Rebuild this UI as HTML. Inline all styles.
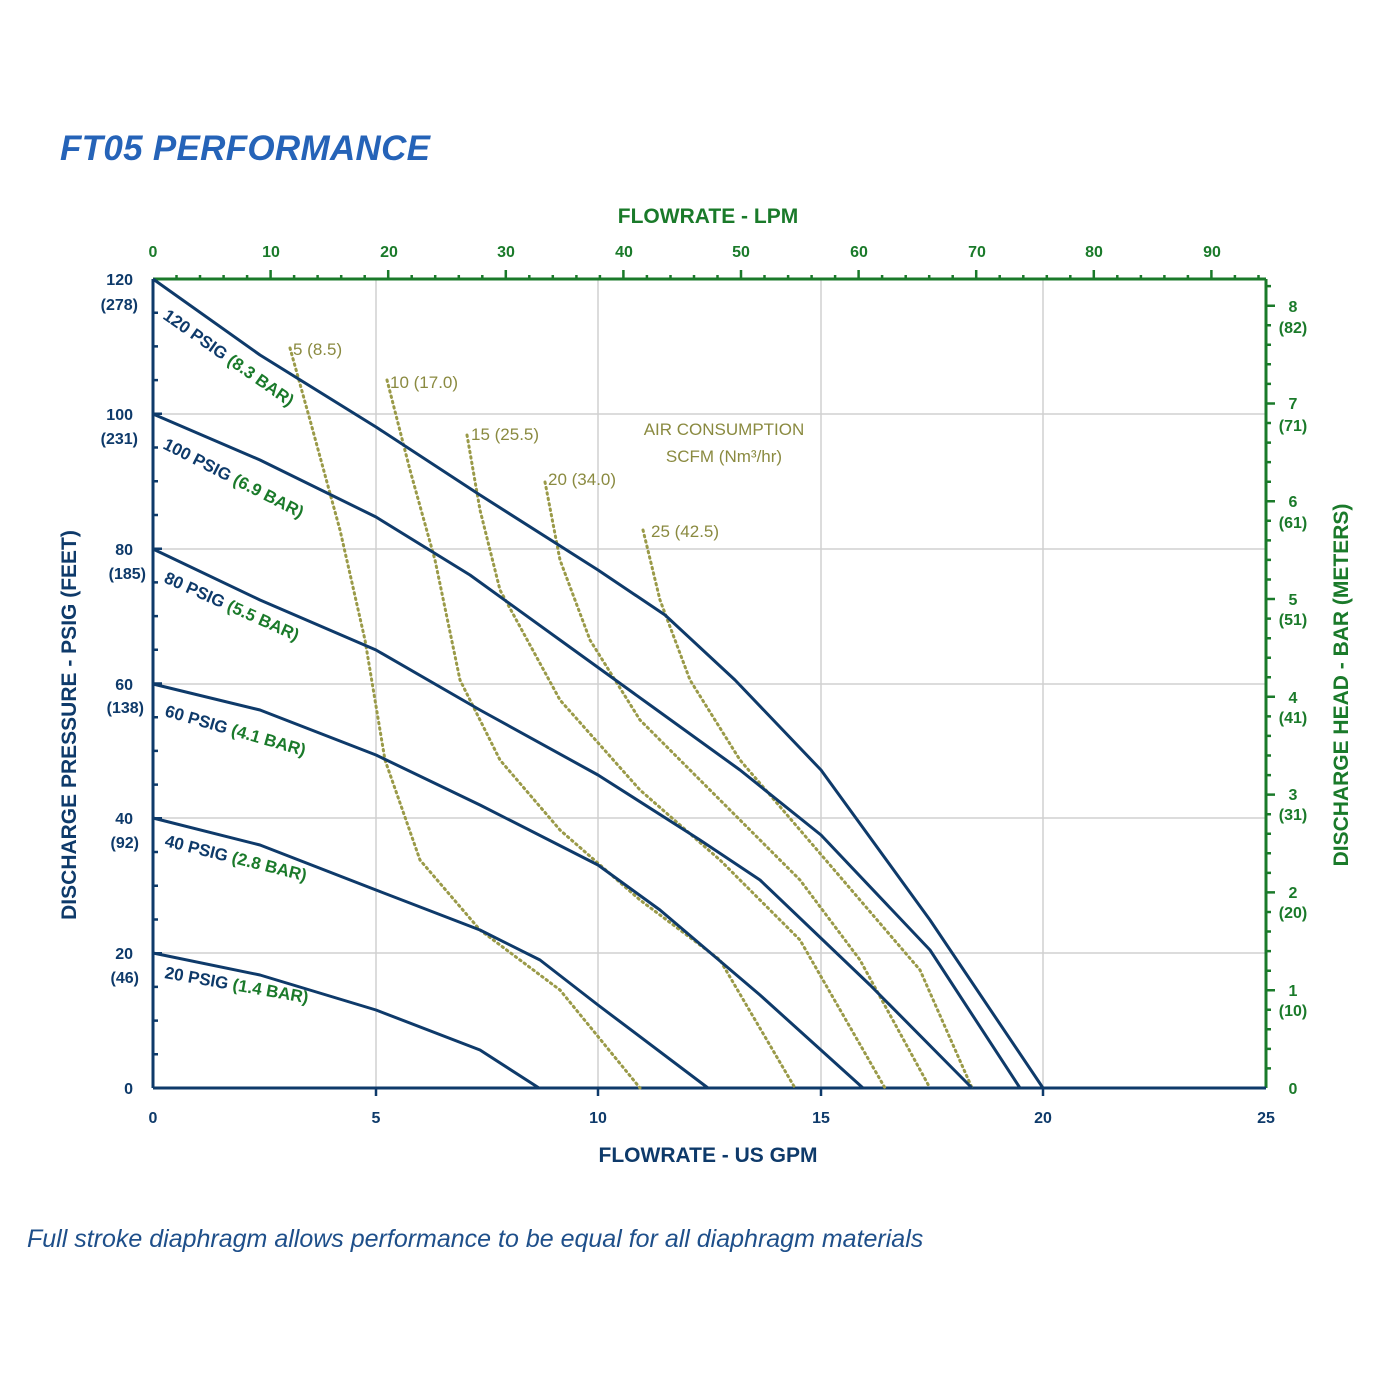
<!DOCTYPE html>
<html><head><meta charset="utf-8"><style>
body{margin:0;background:#fff;width:1400px;height:1400px;overflow:hidden}
svg{display:block}
text{font-family:"Liberation Sans",sans-serif}
</style></head><body>
<svg width="1400" height="1400" viewBox="0 0 1400 1400">
<text x="60" y="160" font-size="35" font-weight="bold" font-style="italic" fill="#2563b8" textLength="370">FT05 PERFORMANCE</text>
<g stroke="#d0d0d0" stroke-width="1.5">
<line x1="376" y1="279" x2="376" y2="1088"/><line x1="598" y1="279" x2="598" y2="1088"/>
<line x1="821" y1="279" x2="821" y2="1088"/><line x1="1043" y1="279" x2="1043" y2="1088"/>
<line x1="153" y1="414" x2="1266" y2="414"/><line x1="153" y1="549" x2="1266" y2="549"/>
<line x1="153" y1="684" x2="1266" y2="684"/><line x1="153" y1="818" x2="1266" y2="818"/>
<line x1="153" y1="953" x2="1266" y2="953"/>
</g>
<g stroke="#1a7a2a" stroke-width="3">
<line x1="153" y1="279" x2="1266" y2="279"/><line x1="1266" y1="279" x2="1266" y2="1088"/>
</g>
<!-- top ticks -->
<path stroke="#1a7a2a" stroke-width="2.5" fill="none" d="M176.5,279v-4M200,279v-4M223.6,279v-4M247.1,279v-4M270.6,279v-9M294.1,279v-4M317.6,279v-4M341.2,279v-4M364.7,279v-4M388.2,279v-9M411.7,279v-4M435.2,279v-4M458.8,279v-4M482.3,279v-4M505.8,279v-9M529.3,279v-4M552.8,279v-4M576.4,279v-4M599.9,279v-4M623.4,279v-9M646.9,279v-4M670.5,279v-4M694,279v-4M717.5,279v-4M741,279v-9M764.5,279v-4M788.1,279v-4M811.6,279v-4M835.1,279v-4M858.6,279v-9M882.1,279v-4M905.7,279v-4M929.2,279v-4M952.7,279v-4M976.2,279v-9M999.7,279v-4M1023.3,279v-4M1046.8,279v-4M1070.3,279v-4M1093.8,279v-9M1117.3,279v-4M1140.9,279v-4M1164.4,279v-4M1187.9,279v-4M1211.4,279v-9M1234.9,279v-4M1258.5,279v-4"/>
<!-- right ticks -->
<path stroke="#1a7a2a" stroke-width="2.5" fill="none" d="M1266,1068.4h5M1266,1048.9h5M1266,1029.3h5M1266,1009.8h5M1266,990.2h9M1266,970.7h5M1266,951.1h5M1266,931.5h5M1266,912h5M1266,892.4h9M1266,872.9h5M1266,853.3h5M1266,833.7h5M1266,814.2h5M1266,794.6h9M1266,775.1h5M1266,755.5h5M1266,735.9h5M1266,716.4h5M1266,696.8h9M1266,677.3h5M1266,657.7h5M1266,638.2h5M1266,618.6h5M1266,599h9M1266,579.5h5M1266,559.9h5M1266,540.4h5M1266,520.8h5M1266,501.2h9M1266,481.7h5M1266,462.1h5M1266,442.6h5M1266,423h5M1266,403.5h9M1266,383.9h5M1266,364.3h5M1266,344.8h5M1266,325.2h5M1266,305.7h9M1266,286.1h5"/>
<g stroke="#0e3a6a" stroke-width="3">
<line x1="153" y1="279" x2="153" y2="1088"/><line x1="153" y1="1088" x2="1266" y2="1088"/>
</g>
<!-- left ticks -->
<path stroke="#0e3a6a" stroke-width="2.5" fill="none" d="M153,1054.3h5M153,1020.6h5M153,986.9h5M153,953.2h9M153,919.5h5M153,885.7h5M153,852h5M153,818.3h9M153,784.6h5M153,750.9h5M153,717.2h5M153,683.5h9M153,649.8h5M153,616.1h5M153,582.4h5M153,548.7h9M153,515h5M153,481.2h5M153,447.5h5M153,413.8h9M153,380.1h5M153,346.4h5M153,312.7h5"/>
<g stroke="#0e3a6a" stroke-width="2.5">
<line x1="376" y1="1088" x2="376" y2="1096"/><line x1="598" y1="1088" x2="598" y2="1096"/>
<line x1="821" y1="1088" x2="821" y2="1096"/><line x1="1043" y1="1088" x2="1043" y2="1096"/>
</g>
<g font-size="16" font-weight="bold" fill="#1a7a2a" text-anchor="middle">
<text x="153" y="257">0</text><text x="271" y="257">10</text><text x="389" y="257">20</text><text x="506" y="257">30</text><text x="624" y="257">40</text><text x="741" y="257">50</text><text x="859" y="257">60</text><text x="977" y="257">70</text><text x="1094" y="257">80</text><text x="1212" y="257">90</text>
</g>
<g font-size="16" font-weight="bold" fill="#0e3a6a" text-anchor="middle">
<text x="153" y="1123">0</text><text x="376" y="1123">5</text><text x="598" y="1123">10</text><text x="821" y="1123">15</text><text x="1043" y="1123">20</text><text x="1266" y="1123">25</text>
</g>
<g font-size="16" font-weight="bold" fill="#0e3a6a" text-anchor="end">
<text x="133" y="285">120</text><text x="138" y="310">(278)</text>
<text x="133" y="420">100</text><text x="138" y="444">(231)</text>
<text x="133" y="555">80</text><text x="146" y="579">(185)</text>
<text x="133" y="690">60</text><text x="144" y="713">(138)</text>
<text x="133" y="824">40</text><text x="139" y="848">(92)</text>
<text x="133" y="959">20</text><text x="139" y="983">(46)</text>
<text x="133" y="1094">0</text>
</g>
<g font-size="16" font-weight="bold" fill="#1a7a2a" text-anchor="middle">
<text x="1293" y="312">8</text><text x="1293" y="333">(82)</text>
<text x="1293" y="409">7</text><text x="1293" y="431">(71)</text>
<text x="1293" y="507">6</text><text x="1293" y="528">(61)</text>
<text x="1293" y="605">5</text><text x="1293" y="625">(51)</text>
<text x="1293" y="703">4</text><text x="1293" y="723">(41)</text>
<text x="1293" y="800">3</text><text x="1293" y="820">(31)</text>
<text x="1293" y="898">2</text><text x="1293" y="918">(20)</text>
<text x="1293" y="996">1</text><text x="1293" y="1016">(10)</text>
<text x="1293" y="1094">0</text>
</g>
<text x="708" y="223" font-size="21" font-weight="bold" fill="#1a7a2a" text-anchor="middle">FLOWRATE - LPM</text>
<text x="708" y="1162" font-size="21" font-weight="bold" fill="#0e3a6a" text-anchor="middle">FLOWRATE - US GPM</text>
<text transform="translate(76,725) rotate(-90)" font-size="21" font-weight="bold" fill="#0e3a6a" text-anchor="middle">DISCHARGE PRESSURE  - PSIG (FEET)</text>
<text transform="translate(1348,685) rotate(-90)" font-size="21" font-weight="bold" fill="#1a7a2a" text-anchor="middle">DISCHARGE HEAD - BAR (METERS)</text>
<g fill="none" stroke="#9a9a48" stroke-width="3" stroke-dasharray="1.5 4" stroke-linecap="round" stroke-linejoin="round">
<polyline points="290,348 310,420 340,530 365,640 385,760 420,860 480,930 560,990 640,1088"/>
<polyline points="387,380 410,470 435,560 460,680 500,760 560,830 640,900 720,960 795,1088"/>
<polyline points="467,435 480,510 500,590 560,700 640,790 720,860 800,940 885,1088"/>
<polyline points="545,482 560,560 590,640 640,720 720,800 800,880 860,960 930,1088"/>
<polyline points="643,530 660,600 690,680 740,760 800,830 860,900 920,970 972,1088"/>
</g>
<g font-size="17" fill="#8a8a40">
<text x="293" y="355">5 (8.5)</text><text x="390" y="388">10 (17.0)</text><text x="471" y="440">15 (25.5)</text><text x="548" y="485">20 (34.0)</text><text x="651" y="537">25 (42.5)</text>
<text x="724" y="435" text-anchor="middle">AIR CONSUMPTION</text><text x="724" y="462" text-anchor="middle">SCFM (Nm³/hr)</text>
</g>
<g fill="none" stroke="#0e3a6a" stroke-width="3" stroke-linejoin="round">
<polyline points="153,279 260,355 376,427 480,495 598,570 665,615 735,680 821,770 930,920 1043,1088"/>
<polyline points="153,414 260,460 376,517 470,575 560,640 650,705 740,770 821,835 930,950 1020,1088"/>
<polyline points="153,549 260,600 376,650 480,710 598,775 700,840 760,880 870,985 972,1088"/>
<polyline points="153,684 260,710 376,755 480,805 598,865 660,910 760,995 863,1088"/>
<polyline points="153,818 260,845 376,890 480,930 540,960 598,1005 708,1088"/>
<polyline points="153,953 260,975 376,1010 480,1050 539,1088"/>
</g>
<g font-size="17" font-weight="bold">
<text transform="translate(162,318) rotate(35)"><tspan fill="#0e3a6a">120 PSIG </tspan><tspan fill="#1a7a2a">(8.3 BAR)</tspan></text>
<text transform="translate(162,448) rotate(27)"><tspan fill="#0e3a6a">100 PSIG </tspan><tspan fill="#1a7a2a">(6.9 BAR)</tspan></text>
<text transform="translate(163,582) rotate(24)"><tspan fill="#0e3a6a">80 PSIG </tspan><tspan fill="#1a7a2a">(5.5 BAR)</tspan></text>
<text transform="translate(164,716) rotate(16)"><tspan fill="#0e3a6a">60 PSIG </tspan><tspan fill="#1a7a2a">(4.1 BAR)</tspan></text>
<text transform="translate(164,846) rotate(14)"><tspan fill="#0e3a6a">40 PSIG </tspan><tspan fill="#1a7a2a">(2.8 BAR)</tspan></text>
<text transform="translate(164,978) rotate(10)"><tspan fill="#0e3a6a">20 PSIG </tspan><tspan fill="#1a7a2a">(1.4 BAR)</tspan></text>
</g>
<text x="27" y="1247" font-size="25" font-style="italic" fill="#1e4f8a">Full stroke diaphragm allows performance to be equal for all diaphragm materials</text>
</svg>
</body></html>
